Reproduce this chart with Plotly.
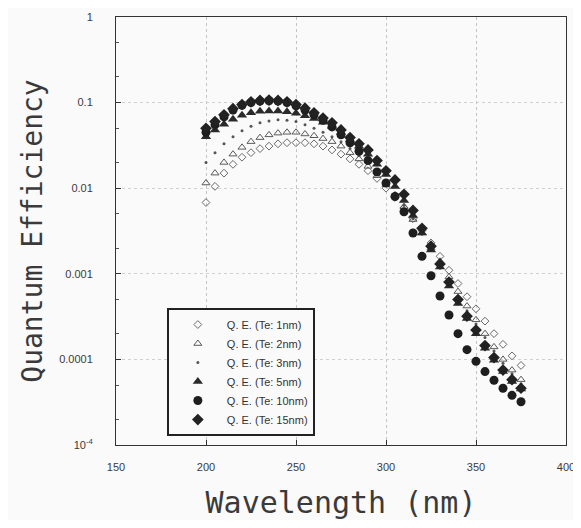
import plotly.graph_objects as go

wavelength = list(range(200, 380, 5))

qe_te1 = [0.0068, 0.0105, 0.015, 0.019, 0.023, 0.026, 0.029, 0.031, 0.033, 0.034,
          0.034, 0.034, 0.033, 0.031, 0.028, 0.025, 0.022, 0.019, 0.016, 0.013,
          0.010, 0.0078, 0.0059, 0.0044, 0.0032, 0.0023, 0.0016, 0.0011, 0.00077, 0.00054,
          0.00039, 0.00028, 0.00020, 0.00015, 0.00011, 0.000085]
qe_te2 = [0.0115, 0.015, 0.020, 0.025, 0.030, 0.035, 0.039, 0.042, 0.044, 0.045,
          0.045, 0.043, 0.041, 0.038, 0.035, 0.031, 0.026, 0.022, 0.018, 0.014,
          0.011, 0.0083, 0.0061, 0.0043, 0.0030, 0.0020, 0.0014, 0.00092, 0.00062, 0.00042,
          0.00029, 0.00020, 0.00014, 0.0001, 0.000075, 0.000058]
qe_te3 = [0.020, 0.026, 0.033, 0.040, 0.047, 0.053, 0.058, 0.061, 0.063, 0.062,
          0.060, 0.055, 0.050, 0.045, 0.040, 0.035, 0.029, 0.024, 0.020, 0.0155,
          0.012, 0.0088, 0.0063, 0.0044, 0.0029, 0.0019, 0.00125, 0.00082, 0.00055, 0.00037,
          0.00026, 0.00018, 0.000125, 0.00009, 0.000068, 0.000052]
qe_te5 = [0.040, 0.048, 0.056, 0.064, 0.071, 0.076, 0.079, 0.080, 0.080, 0.078,
          0.075, 0.070, 0.065, 0.059, 0.053, 0.045, 0.037, 0.031, 0.025, 0.019,
          0.0145, 0.0105, 0.0072, 0.0048, 0.0030, 0.0019, 0.0012, 0.00072, 0.00045, 0.00030,
          0.00020, 0.000135, 0.000098, 0.000072, 0.000055, 0.000045]
qe_te10 = [0.045, 0.055, 0.068, 0.082, 0.093, 0.100, 0.104, 0.105, 0.104, 0.100,
           0.092, 0.082, 0.072, 0.062, 0.052, 0.042, 0.034, 0.027, 0.021, 0.0155,
           0.0115, 0.0080, 0.0053, 0.0030, 0.0016, 0.00095, 0.00055, 0.00033, 0.00020, 0.00013,
           0.000095, 0.000072, 0.000057, 0.000046, 0.000038, 0.000032]
qe_te15 = [0.050, 0.060, 0.072, 0.085, 0.095, 0.102, 0.106, 0.107, 0.106, 0.102,
           0.095, 0.086, 0.076, 0.066, 0.058, 0.048, 0.039, 0.033, 0.028, 0.021,
           0.016, 0.0125, 0.0085, 0.0055, 0.0034, 0.0021, 0.0013, 0.00080, 0.00050, 0.00032,
           0.00022, 0.000145, 0.000105, 0.000075, 0.000058, 0.000046]

series_names = ["Q. E. (Te: 1nm)", "Q. E. (Te: 2nm)", "Q. E. (Te: 3nm)",
                "Q. E. (Te: 5nm)", "Q. E. (Te: 10nm)", "Q. E. (Te: 15nm)"]
series_values = [qe_te1, qe_te2, qe_te3, qe_te5, qe_te10, qe_te15]

y_tickvals = [1e-5, 1e-4, 1e-3, 1e-2, 1e-1, 1]
y_ticktext = ["10<sup>-4</sup>", "0.0001", "0.001", "0.01", "0.1", "1"]
x_tickvals = [150, 200, 250, 300, 350, 400]

styles = [
    dict(symbol="diamond-open", size=6, color="#6a6a6a", line=dict(width=1, color="#6a6a6a")),
    dict(symbol="triangle-up-open", size=7, color="#5a5a5a", line=dict(width=1, color="#5a5a5a")),
    dict(symbol="circle", size=3, color="#555555"),
    dict(symbol="triangle-up", size=9, color="#2a2a2a"),
    dict(symbol="circle", size=9, color="#1e1e1e"),
    dict(symbol="diamond", size=9, color="#222222"),
]

fig = go.Figure()
for name, vals, st in zip(series_names, series_values, styles):
    fig.add_trace(go.Scatter(x=wavelength, y=vals, mode="markers", name=name, marker=st))

tick_font = dict(family="Liberation Sans, Arial, sans-serif", size=11, color="#3a3a3a")
fig.update_layout(
    width=570, height=512,
    margin=dict(l=108, r=12, t=9, b=75),
    paper_bgcolor="#fafafa", plot_bgcolor="#fafafa",
    showlegend=True,
    legend=dict(x=0.113, y=0.32, xanchor="left", yanchor="top",
                bgcolor="#fafafa", bordercolor="#222222", borderwidth=2,
                font=dict(family="Liberation Sans, Arial, sans-serif", size=11, color="#333333"),
                tracegroupgap=0, itemsizing="trace", itemwidth=48),
)
fig.update_xaxes(
    range=[150, 400], tickvals=x_tickvals, ticks="inside", ticklen=5, tickcolor="#333",
    showline=True, linecolor="#333333", linewidth=1, mirror=True,
    showgrid=True, gridcolor="#c4c4c4", griddash="dot", gridwidth=1,
    zeroline=False, tickfont=tick_font, ticklabelstandoff=12, automargin=False,
    ticklabeloverflow="allow",
    title=dict(text="Wavelength (nm)", standoff=25,
               font=dict(family="DejaVu Sans Mono, monospace", size=30, color="#3a3a3a")),
)
fig.update_yaxes(
    type="log", range=[-5, 0], tickvals=y_tickvals, ticktext=y_ticktext,
    ticks="inside", ticklen=5, tickcolor="#333",
    minor=dict(ticks="inside", ticklen=3, tickcolor="#555", showgrid=False),
    showline=True, linecolor="#333333", linewidth=1, mirror=True,
    showgrid=True, gridcolor="#d0d0d0", griddash="dot", gridwidth=1,
    tickfont=tick_font, ticklabelstandoff=20, automargin=False,
    ticklabeloverflow="allow",
    title=dict(text="Quantum Efficiency", standoff=8,
               font=dict(family="DejaVu Sans Mono, monospace", size=28, color="#3a3a3a")),
)

fig.write_html("out.html")
